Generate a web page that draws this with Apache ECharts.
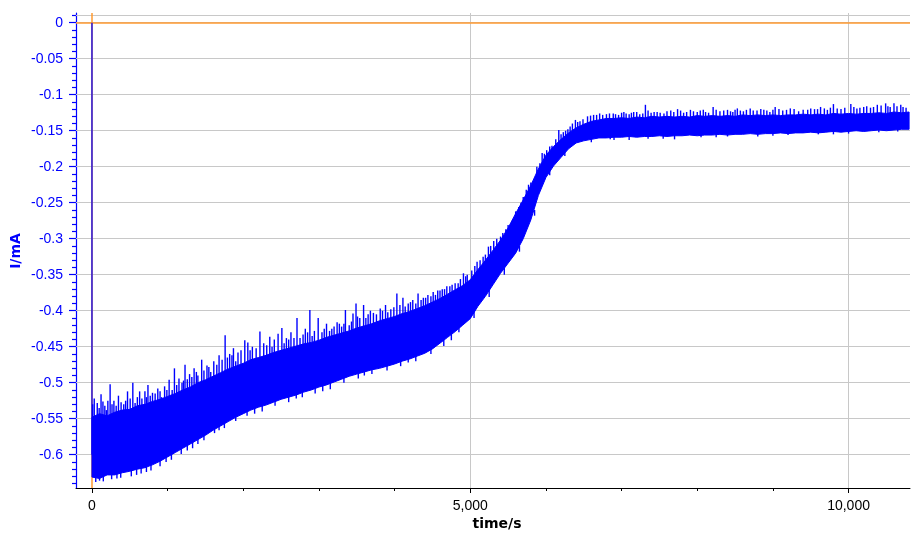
<!DOCTYPE html>
<html>
<head>
<meta charset="utf-8">
<script src="https://cdn.jsdelivr.net/npm/echarts@6/dist/echarts.min.js"></script>
<style>html,body{margin:0;padding:0;background:#fff;}#c{width:912px;height:533px;}</style>
</head>
<body>
<div id="c"></div>
<script>
// ---- data ----
const T = [0,100,200,300,400,500,600,700,800,900,1000,1100,1200,1300,1400,1500,1600,1700,1800,1900,
2000,2100,2200,2300,2400,2500,2600,2700,2800,2900,3000,3100,3200,3300,3400,3500,3600,3700,3800,3900,
4000,4100,4200,4300,4400,4500,4600,4700,4800,4900,5000,5100,5200,5300,5400,5500,5600,5700,5800,5900,
6000,6100,6200,6300,6400,6500,6600,6700,6800,6900,7000,7100,7200,7300,7400,7500,7600,7700,7800,7900,
8000,8100,8200,8300,8400,8500,8600,8700,8800,8900,9000,9100,9200,9300,9400,9500,9600,9700,9800,9900,
10000,10100,10200,10300,10400,10500,10600,10700,10800];
// upper edge of the dense noise band (mA)
const HI = [-0.548,-0.543,-0.546,-0.541,-0.538,-0.537,-0.532,-0.530,-0.526,-0.523,-0.519,-0.515,-0.510,-0.506,-0.500,-0.496,-0.491,-0.486,-0.481,-0.477,
-0.473,-0.468,-0.465,-0.462,-0.458,-0.455,-0.452,-0.449,-0.446,-0.444,-0.441,-0.437,-0.434,-0.431,-0.428,-0.424,-0.421,-0.418,-0.414,-0.411,
-0.408,-0.404,-0.401,-0.397,-0.393,-0.388,-0.383,-0.377,-0.371,-0.365,-0.357,-0.343,-0.330,-0.316,-0.302,-0.285,-0.265,-0.246,-0.226,-0.203,
-0.184,-0.172,-0.162,-0.153,-0.146,-0.141,-0.137,-0.135,-0.133,-0.133,-0.132,-0.133,-0.131,-0.132,-0.130,-0.131,-0.130,-0.131,-0.130,-0.131,
-0.129,-0.130,-0.129,-0.130,-0.129,-0.130,-0.128,-0.129,-0.128,-0.129,-0.128,-0.129,-0.128,-0.128,-0.127,-0.128,-0.127,-0.128,-0.126,-0.127,
-0.126,-0.127,-0.126,-0.126,-0.125,-0.126,-0.124,-0.125,-0.124];
// lower edge of the dense noise band (mA)
const LO = [-0.631,-0.633,-0.628,-0.628,-0.625,-0.623,-0.620,-0.618,-0.614,-0.609,-0.603,-0.597,-0.591,-0.585,-0.579,-0.573,-0.566,-0.560,-0.554,-0.548,
-0.543,-0.538,-0.534,-0.531,-0.527,-0.523,-0.520,-0.517,-0.513,-0.510,-0.506,-0.503,-0.499,-0.495,-0.491,-0.488,-0.485,-0.482,-0.480,-0.477,
-0.474,-0.470,-0.467,-0.463,-0.459,-0.453,-0.445,-0.437,-0.429,-0.420,-0.411,-0.394,-0.380,-0.364,-0.348,-0.334,-0.320,-0.300,-0.274,-0.240,
-0.215,-0.199,-0.187,-0.175,-0.167,-0.164,-0.162,-0.160,-0.160,-0.159,-0.159,-0.158,-0.159,-0.158,-0.158,-0.157,-0.158,-0.157,-0.157,-0.156,
-0.157,-0.156,-0.156,-0.155,-0.156,-0.155,-0.155,-0.154,-0.155,-0.154,-0.154,-0.153,-0.154,-0.153,-0.153,-0.152,-0.153,-0.152,-0.151,-0.152,
-0.151,-0.150,-0.151,-0.150,-0.149,-0.150,-0.149,-0.148,-0.148];
// individual noise spikes above the band: [time, from, to]
const SPIKES_UP = [[30,-0.555,-0.522],[70,-0.552,-0.528],[120,-0.552,-0.516],[170,-0.552,-0.532],[210,-0.552,-0.525],[240,-0.55,-0.502],[290,-0.548,-0.525],[350,-0.546,-0.518],[420,-0.545,-0.530],[470,-0.544,-0.512],
[540,-0.542,-0.500],[600,-0.54,-0.520],[660,-0.538,-0.522],[700,-0.537,-0.512],[740,-0.536,-0.503],[800,-0.534,-0.514],[870,-0.531,-0.508],[920,-0.53,-0.52],[960,-0.528,-0.505],[1020,-0.526,-0.496],
[1060,-0.524,-0.51],[1090,-0.522,-0.480],[1150,-0.52,-0.494],[1190,-0.518,-0.50],[1230,-0.516,-0.475],[1290,-0.513,-0.488],[1350,-0.51,-0.480],[1400,-0.508,-0.49],[1450,-0.505,-0.468],[1520,-0.502,-0.476],
[1570,-0.5,-0.485],[1610,-0.498,-0.470],[1680,-0.494,-0.462],[1760,-0.49,-0.434],[1820,-0.488,-0.46],[1870,-0.485,-0.452],[1930,-0.484,-0.458],[2020,-0.48,-0.441],[2060,-0.478,-0.444],[2120,-0.476,-0.45],
[2220,-0.472,-0.429],[2270,-0.47,-0.445],[2350,-0.469,-0.436],[2410,-0.466,-0.44],[2460,-0.464,-0.432],[2510,-0.463,-0.424],[2570,-0.46,-0.438],[2630,-0.459,-0.43],[2710,-0.456,-0.410],[2750,-0.455,-0.438],
[2820,-0.453,-0.425],[2880,-0.452,-0.399],[2940,-0.45,-0.428],[2990,-0.449,-0.41],[3040,-0.447,-0.43],[3100,-0.445,-0.418],[3170,-0.442,-0.425],[3240,-0.441,-0.416],[3300,-0.438,-0.422],[3350,-0.437,-0.399],
[3400,-0.435,-0.42],[3450,-0.434,-0.404],[3490,-0.432,-0.390],[3540,-0.43,-0.41],[3590,-0.429,-0.392],[3650,-0.427,-0.405],[3720,-0.425,-0.403],[3810,-0.422,-0.397],[3880,-0.42,-0.392],[3950,-0.418,-0.398],
[4030,-0.415,-0.376],[4110,-0.412,-0.382],[4180,-0.41,-0.39],[4240,-0.408,-0.385],[4310,-0.405,-0.376],[4380,-0.402,-0.382],[4440,-0.4,-0.378],[4510,-0.397,-0.374],[4570,-0.393,-0.372],[4630,-0.391,-0.370],
[4690,-0.386,-0.366],[4760,-0.384,-0.364],[4840,-0.378,-0.362],[4910,-0.372,-0.348],[4960,-0.367,-0.35],[5090,-0.352,-0.332],[5170,-0.34,-0.325],[5240,-0.325,-0.311],[5310,-0.322,-0.303],[5400,-0.31,-0.297],
[5470,-0.298,-0.287],[5530,-0.292,-0.281],[5560,-0.285,-0.274],[5640,-0.27,-0.256],[5700,-0.255,-0.242],[5770,-0.238,-0.225],[5830,-0.23,-0.221],[5880,-0.22,-0.200],[5950,-0.2,-0.181],[6010,-0.19,-0.177],
[6080,-0.18,-0.171],[6170,-0.17,-0.149],[6230,-0.165,-0.152],[6290,-0.16,-0.148],[6350,-0.155,-0.14],[6390,-0.152,-0.135],[6450,-0.15,-0.137],[6550,-0.145,-0.130],[6630,-0.143,-0.128],[6710,-0.142,-0.126],
[6800,-0.14,-0.127],[6890,-0.14,-0.126],[6960,-0.14,-0.128],[7030,-0.14,-0.124],[7100,-0.14,-0.127],[7160,-0.14,-0.124],[7240,-0.139,-0.127],[7315,-0.139,-0.114],[7390,-0.139,-0.125],[7470,-0.138,-0.124],
[7560,-0.138,-0.126],[7650,-0.138,-0.122],[7740,-0.138,-0.120],[7820,-0.137,-0.125],[7910,-0.137,-0.121],[8000,-0.137,-0.124],[8080,-0.136,-0.121],[8150,-0.136,-0.125],[8210,-0.136,-0.117],[8300,-0.136,-0.123],
[8400,-0.135,-0.121],[8470,-0.135,-0.124],[8530,-0.135,-0.119],[8610,-0.135,-0.123],[8700,-0.135,-0.119],[8790,-0.134,-0.122],[8880,-0.134,-0.121],[8960,-0.134,-0.124],[9030,-0.134,-0.117],[9130,-0.134,-0.122],
[9230,-0.133,-0.119],[9340,-0.133,-0.123],[9460,-0.133,-0.121],[9550,-0.133,-0.12],[9630,-0.132,-0.117],[9720,-0.132,-0.121],[9800,-0.132,-0.113],[9900,-0.132,-0.12],[10030,-0.131,-0.113],[10110,-0.131,-0.119],
[10200,-0.131,-0.117],[10290,-0.13,-0.118],[10380,-0.13,-0.114],[10490,-0.13,-0.112],[10550,-0.13,-0.117],[10600,-0.13,-0.112],[10690,-0.129,-0.114],[10760,-0.129,-0.118],
[10,-0.55,-0.53],[95,-0.55,-0.535],[145,-0.55,-0.526],[190,-0.55,-0.538],[265,-0.548,-0.53],[320,-0.546,-0.532],[385,-0.545,-0.527],[445,-0.544,-0.525],[505,-0.542,-0.522],[570,-0.54,-0.528],
[630,-0.538,-0.512],[720,-0.536,-0.52],[770,-0.534,-0.518],[835,-0.532,-0.515],[900,-0.53,-0.512],[990,-0.527,-0.51],[1120,-0.52,-0.503],[1210,-0.515,-0.497],[1260,-0.513,-0.495],[1320,-0.51,-0.492],
[1380,-0.507,-0.485],[1480,-0.503,-0.483],[1545,-0.5,-0.478],[1650,-0.495,-0.475],[1720,-0.491,-0.468],[1790,-0.488,-0.465],[1850,-0.486,-0.462],[1900,-0.485,-0.47],[1970,-0.482,-0.455],[2090,-0.477,-0.455],
[2170,-0.474,-0.452],[2310,-0.47,-0.448],[2380,-0.467,-0.45],[2540,-0.462,-0.445],[2600,-0.46,-0.44],[2670,-0.457,-0.438],[2790,-0.454,-0.433],[2850,-0.452,-0.43],[2910,-0.45,-0.435],[3070,-0.446,-0.425],
[3140,-0.444,-0.428],[3200,-0.441,-0.422],[3270,-0.44,-0.418],[3330,-0.438,-0.418],[3430,-0.435,-0.415],[3510,-0.432,-0.408],[3620,-0.428,-0.41],[3680,-0.426,-0.4],[3760,-0.424,-0.405],[3840,-0.421,-0.4],
[3910,-0.419,-0.402],[3990,-0.416,-0.395],[4070,-0.414,-0.392],[4140,-0.411,-0.394],[4210,-0.409,-0.388],[4280,-0.406,-0.39],[4350,-0.403,-0.385],[4410,-0.401,-0.382],[4480,-0.398,-0.38],[4540,-0.395,-0.378],
[4600,-0.392,-0.372],[4660,-0.389,-0.37],[4730,-0.385,-0.366],[4800,-0.381,-0.362],[4870,-0.376,-0.356],[4940,-0.37,-0.352],[5020,-0.362,-0.344],[5060,-0.356,-0.338],[5130,-0.346,-0.33],[5200,-0.336,-0.322],
[5270,-0.324,-0.31],[5350,-0.315,-0.3],[5430,-0.305,-0.292],[5500,-0.293,-0.281],[5600,-0.275,-0.262],[5670,-0.262,-0.25],[5740,-0.245,-0.232],[5800,-0.235,-0.222],[5920,-0.21,-0.195],[5980,-0.195,-0.182],
[6050,-0.185,-0.172],[6130,-0.175,-0.162],[6200,-0.168,-0.155],[6260,-0.162,-0.15],[6320,-0.158,-0.144],[6420,-0.152,-0.138],[6490,-0.148,-0.134],[6590,-0.142,-0.129],[6670,-0.141,-0.128],[6750,-0.14,-0.128],
[6840,-0.139,-0.126],[6920,-0.139,-0.127],[7000,-0.139,-0.125],[7060,-0.138,-0.126],[7130,-0.138,-0.125],[7200,-0.138,-0.124],[7280,-0.138,-0.126],[7350,-0.138,-0.122],[7430,-0.137,-0.124],[7510,-0.137,-0.125],
[7600,-0.137,-0.123],[7690,-0.137,-0.124],[7780,-0.136,-0.122],[7860,-0.136,-0.124],[7950,-0.136,-0.123],[8040,-0.136,-0.122],[8110,-0.135,-0.124],[8250,-0.135,-0.121],[8350,-0.135,-0.122],[8440,-0.134,-0.123],
[8500,-0.134,-0.121],[8570,-0.134,-0.122],[8650,-0.134,-0.121],[8740,-0.134,-0.122],[8840,-0.133,-0.12],[8920,-0.133,-0.122],[9000,-0.133,-0.121],[9080,-0.133,-0.12],[9180,-0.133,-0.121],[9280,-0.132,-0.12],
[9400,-0.132,-0.121],[9500,-0.132,-0.119],[9590,-0.132,-0.12],[9680,-0.131,-0.119],[9760,-0.131,-0.118],[9850,-0.131,-0.119],[9950,-0.131,-0.118],[10070,-0.13,-0.117],[10150,-0.13,-0.118],[10240,-0.13,-0.116],
[10330,-0.129,-0.117],[10430,-0.129,-0.115],[10520,-0.129,-0.116],[10640,-0.128,-0.116],[10720,-0.128,-0.117]];
// noise spikes below the band: [time, from, to]
const SPIKES_DOWN = [[50,-0.62,-0.638],[150,-0.62,-0.637],[260,-0.62,-0.634],[380,-0.615,-0.632],[520,-0.612,-0.63],[650,-0.61,-0.626],[780,-0.605,-0.622],[900,-0.60,-0.616],[1050,-0.59,-0.607],[1180,-0.585,-0.599],
[1330,-0.575,-0.591],[1480,-0.565,-0.58],[1620,-0.555,-0.57],[1750,-0.55,-0.563],[1900,-0.54,-0.553],[2050,-0.535,-0.546],[2250,-0.525,-0.540],[2420,-0.52,-0.532],[2600,-0.515,-0.527],[2780,-0.51,-0.52],
[2950,-0.505,-0.515],[3150,-0.495,-0.509],[3330,-0.49,-0.500],[3520,-0.485,-0.494],[3700,-0.478,-0.488],[3900,-0.473,-0.483],[4080,-0.468,-0.477],[4280,-0.46,-0.470],[4480,-0.45,-0.460],[4650,-0.44,-0.449],
[4850,-0.42,-0.43],[5050,-0.40,-0.41],[5250,-0.37,-0.381],[5450,-0.34,-0.35],[5650,-0.31,-0.318],[5850,-0.26,-0.268],[6050,-0.205,-0.212],[6250,-0.18,-0.185],[6600,-0.158,-0.166],[6850,-0.156,-0.162],
[7100,-0.155,-0.163],[7350,-0.155,-0.161],[7700,-0.154,-0.162],[8050,-0.153,-0.159],[8400,-0.152,-0.158],[8800,-0.151,-0.158],[9200,-0.15,-0.156],[9600,-0.149,-0.155],[10000,-0.148,-0.154],[10400,-0.146,-0.152],
[100,-0.62,-0.636],[330,-0.618,-0.633],[590,-0.612,-0.628],[720,-0.608,-0.624],[980,-0.596,-0.61],[1260,-0.58,-0.594],[1400,-0.57,-0.585],[1680,-0.552,-0.566],[2150,-0.53,-0.543],[2700,-0.51,-0.522],
[3050,-0.5,-0.512],[3600,-0.48,-0.49],[4180,-0.462,-0.472],[4750,-0.43,-0.441],[6900,-0.155,-0.163],[7550,-0.154,-0.161],[8250,-0.152,-0.159],[9000,-0.15,-0.157],[9800,-0.148,-0.155],[10650,-0.145,-0.151]];
// first recorded segment: from 0 down into the band
const DROP = [[0,0],[0,-0.60]];
// axis ticks
const X_TICKS = [0,5000,10000];
const X_MINOR = [1000,2000,3000,4000,6000,7000,8000,9000];
const Y_TICKS = [0,-0.05,-0.1,-0.15,-0.2,-0.25,-0.3,-0.35,-0.4,-0.45,-0.5,-0.55,-0.6];
const Y_MINOR = [0.01,-0.01,-0.02,-0.03,-0.04,-0.06,-0.07,-0.08,-0.09,-0.11,-0.12,-0.13,-0.14,-0.16,-0.17,-0.18,-0.19,
-0.21,-0.22,-0.23,-0.24,-0.26,-0.27,-0.28,-0.29,-0.31,-0.32,-0.33,-0.34,-0.36,-0.37,-0.38,-0.39,-0.41,-0.42,-0.43,-0.44,
-0.46,-0.47,-0.48,-0.49,-0.51,-0.52,-0.53,-0.54,-0.56,-0.57,-0.58,-0.59,-0.61,-0.62,-0.63,-0.64];
const XMIN = -211, XMAX = 10812, YMIN = -0.6462, YMAX = 0.0135;

// ---- chart ----
const BLUE = '#0000ff';
const chart = echarts.init(document.getElementById('c'), null, {renderer:'canvas'});
const fmtX = v => String(Math.round(v)).replace(/\B(?=(\d{3})+(?!\d))/g, ',');
const labelFont = {fontFamily:'"Liberation Sans", Arial, sans-serif', fontSize:14};
const spikeSeries = (arr) => ({
  type:'custom', coordinateSystem:'cartesian2d', xAxisIndex:0, yAxisIndex:0, z:10, clip:true,
  data: arr, encode:{x:0, y:[1,2]},
  renderItem: (params, api) => {
    const a = api.coord([api.value(0), api.value(1)]);
    const b = api.coord([api.value(0), api.value(2)]);
    return {type:'line', shape:{x1:a[0], y1:a[1], x2:b[0], y2:b[1]}, style:{stroke:BLUE, lineWidth:1.4}};
  }
});
chart.setOption({
  animation:false,
  backgroundColor:'#ffffff',
  grid:{left:76, right:912-910, top:13, bottom:45, containLabel:false},
  xAxis:[
    {type:'value', min:XMIN, max:XMAX, position:'bottom',
     axisLine:{show:true, onZero:false, lineStyle:{color:'#000', width:1}},
     axisTick:{show:true, customValues:X_TICKS, length:5, lineStyle:{color:'#000'}},
     axisLabel:{show:true, customValues:X_TICKS, margin:11, color:'#000', formatter:fmtX, ...labelFont},
     splitLine:{show:false}},
    {type:'value', min:XMIN, max:XMAX, position:'bottom',
     axisLine:{show:false, onZero:false},
     axisTick:{show:true, customValues:X_MINOR, length:3, lineStyle:{color:'#000'}},
     axisLabel:{show:false}, splitLine:{show:false}}
  ],
  yAxis:[
    {type:'value', min:YMIN, max:YMAX, position:'left',
     axisLine:{show:true, onZero:false, lineStyle:{color:BLUE, width:1.2}},
     axisTick:{show:true, customValues:Y_TICKS, length:7, lineStyle:{color:BLUE, width:1.2}},
     axisLabel:{show:true, customValues:Y_TICKS, margin:13, color:BLUE, formatter:v => String(v), ...labelFont},
     splitLine:{show:false}},
    {type:'value', min:YMIN, max:YMAX, position:'left',
     axisLine:{show:false, onZero:false},
     axisTick:{show:true, customValues:Y_MINOR, length:4, lineStyle:{color:BLUE, width:1.2}},
     axisLabel:{show:false}, splitLine:{show:false}}
  ],
  graphic:[
    {type:'text', x:16, y:251, rotation:Math.PI/2, z:100,
     style:{text:'I/mA', fill:BLUE, font:'bold 14px "DejaVu Sans", Verdana, sans-serif',
            align:'center', verticalAlign:'middle', textAlign:'center', textVerticalAlign:'middle'}},
    {type:'text', x:497, y:524, z:100,
     style:{text:'time/s', fill:'#000', font:'bold 14px "DejaVu Sans", Verdana, sans-serif',
            align:'center', verticalAlign:'middle', textAlign:'center', textVerticalAlign:'middle'}}
  ],
  series:[
    {type:'line', data:DROP, xAxisIndex:0, yAxisIndex:0, showSymbol:false, symbol:'none', z:10,
     lineStyle:{color:BLUE, width:1.3},
     markLine:{silent:true, symbol:'none', z:1, animation:false, label:{show:false},
       lineStyle:{color:'#c8c8c8', width:1, type:'solid'}, emphasis:{disabled:true},
       data:[...Y_TICKS.map(v => ({yAxis:v})), {xAxis:5000}, {xAxis:10000}, {yAxis:YMAX}]}},
    {type:'line', data:[], xAxisIndex:0, yAxisIndex:0, showSymbol:false, z:4,
     markLine:{silent:true, symbol:'none', z:4, animation:false, label:{show:false},
       lineStyle:{color:'#ff9a30', width:1.5, type:'solid'}, emphasis:{disabled:true},
       data:[{yAxis:0}, {xAxis:0}]}},
    // dense noise band: one polygon through the upper edge and back along the lower edge
    {type:'custom', coordinateSystem:'cartesian2d', xAxisIndex:0, yAxisIndex:0, z:9, clip:true,
     data: T.map((t,i) => [t, LO[i], HI[i]]), encode:{x:0, y:[1,2]},
     renderItem: (params, api) => {
       if (params.dataIndex !== 0) return {type:'group', children:[]};
       const pts = [];
       for (let i = 0; i < T.length; i++) pts.push(api.coord([T[i], HI[i]]));
       for (let i = T.length - 1; i >= 0; i--) pts.push(api.coord([T[i], LO[i]]));
       return {type:'polygon', shape:{points:pts}, style:{fill:BLUE, stroke:BLUE, lineWidth:1}};
     }},
    spikeSeries(SPIKES_UP),
    spikeSeries(SPIKES_DOWN)
  ]
});
</script>
</body>
</html>
